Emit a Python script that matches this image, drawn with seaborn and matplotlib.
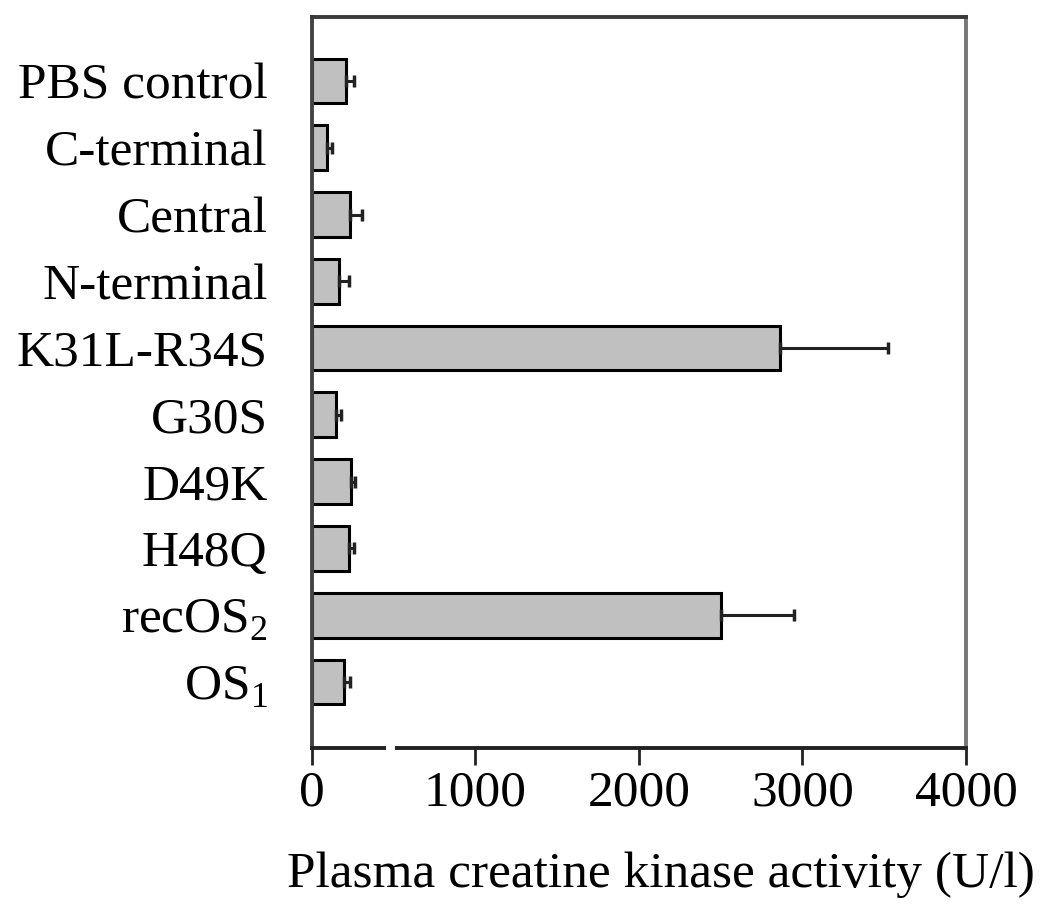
"""Horizontal bar chart of plasma creatine kinase activity"""

import matplotlib

matplotlib.use("Agg")
import matplotlib.pyplot as plt
import numpy as np
import pandas as pd
import seaborn as sns  # type: ignore

groups = [
    "PBS control",
    "C-terminal",
    "Central",
    "N-terminal",
    "K31L-R34S",
    "G30S",
    "D49K",
    "H48Q",
    r"recOS$_\mathregular{2}$",
    r"OS$_\mathregular{1}$",
]
activity = [210, 95, 235, 165, 2860, 150, 240, 225, 2500, 195]
activity_err = [50, 25, 70, 60, 660, 30, 25, 30, 450, 40]

sns.set_style("white")
plt.rcParams["font.family"] = ["Liberation Serif", "DejaVu Serif"]
plt.rcParams["mathtext.fontset"] = "custom"
plt.rcParams["mathtext.rm"] = "Liberation Serif"
plt.rcParams["text.color"] = "black"
plt.rcParams["xtick.color"] = "#222222"
plt.rcParams["xtick.labelcolor"] = "black"
plt.rcParams["ytick.labelcolor"] = "black"

df = pd.DataFrame({"group": groups, "activity": activity, "err": activity_err})

fig = plt.figure(figsize=(10.5, 9.07), dpi=100)
ax = fig.add_axes((0.2971, 0.1753, 0.6229, 0.806))

sns.barplot(
    data=df,
    x="activity",
    y="group",
    orient="h",
    color="#c0c0c0",
    saturation=1,
    edgecolor="black",
    linewidth=2.2,
    width=0.67,
    errorbar=None,
    ax=ax,
)
ax.errorbar(
    df["activity"],
    np.arange(len(groups)),
    xerr=[np.zeros(len(groups)), df["err"]],
    fmt="none",
    ecolor="#222222",
    elinewidth=2.2,
    capsize=4,
    capthick=2.5,
)

ax.set_xlim(0, 4000)
ax.set_ylim(9.99, -0.96)
ax.set_xticks([0, 1000, 2000, 3000, 4000])
ax.set_xlabel("Plasma creatine kinase activity (U/l)", fontsize=37, color="black")
ax.xaxis.set_label_coords(0.534, -0.142)
ax.set_ylabel("")
ax.tick_params(axis="x", labelsize=37, length=12, width=2, direction="out",
               pad=4, bottom=True)
ax.tick_params(axis="y", labelsize=37, length=0, pad=32)

for side in ["left", "right", "top", "bottom"]:
    ax.spines[side].set_visible(True)
    ax.spines[side].set_linewidth(2.8)
ax.spines["left"].set_color("#444444")
ax.spines["top"].set_color("#3a3a3a")
ax.spines["right"].set_color("#777777")
ax.spines["bottom"].set_color("#222222")

# small break in the bottom axis line, as in the original figure
ax.plot([450, 508], [9.99, 9.99], color="white", lw=4, clip_on=False, zorder=5,
        solid_capstyle="butt")

plt.savefig("out.png", dpi=100)
plt.close()
